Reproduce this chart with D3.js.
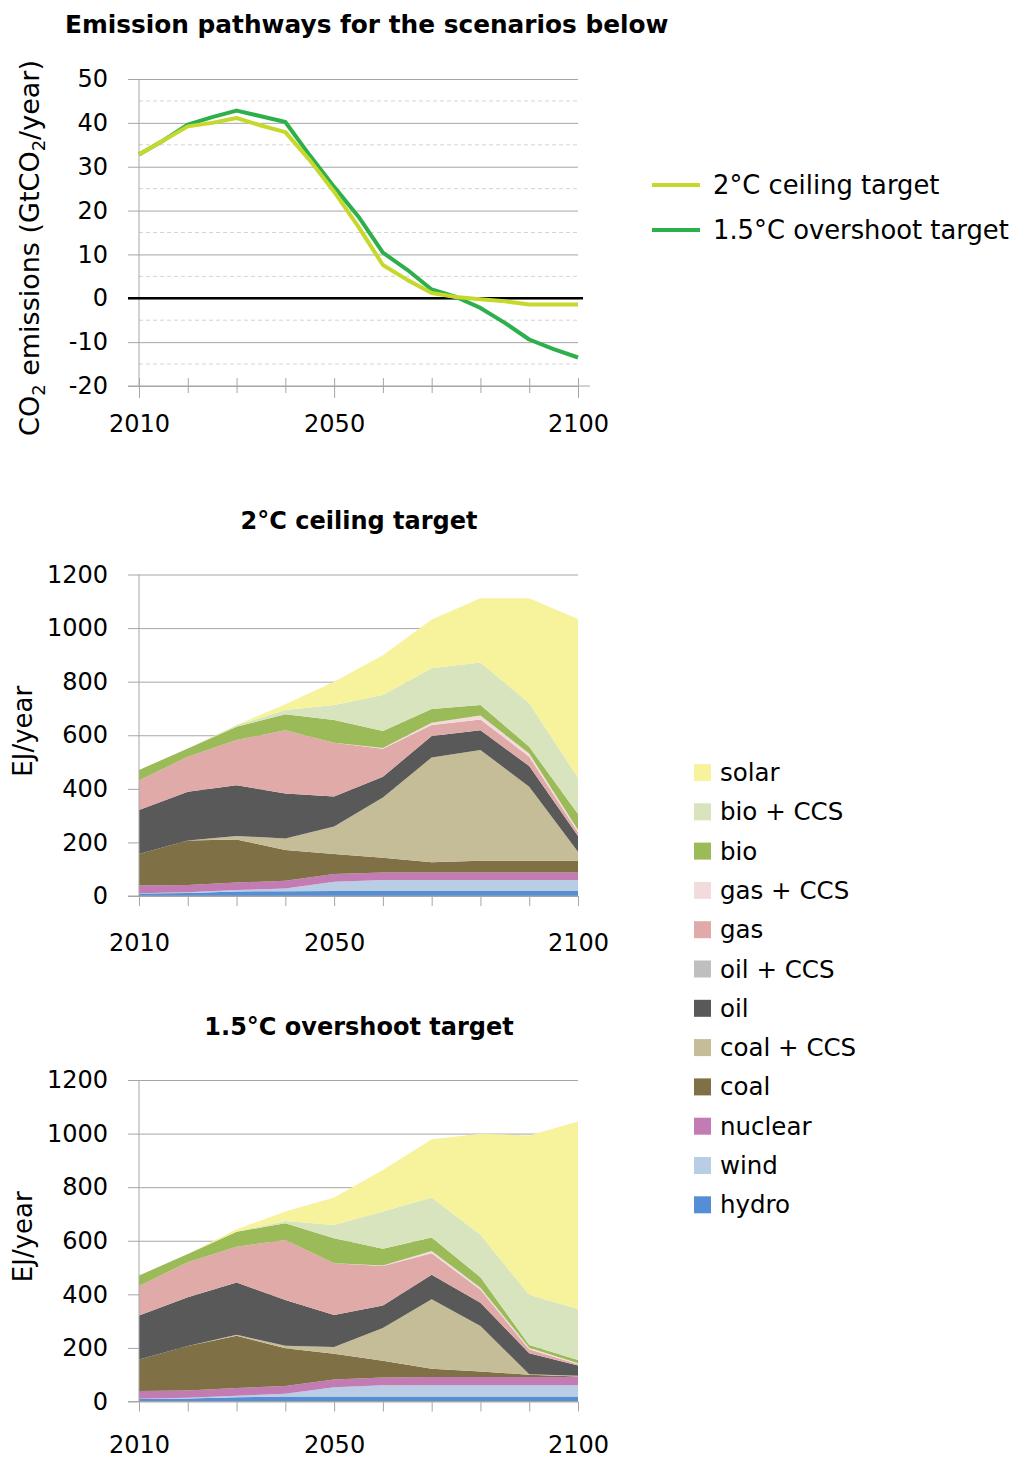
<!DOCTYPE html>
<html>
<head>
<meta charset="utf-8">
<script src="https://cdn.jsdelivr.net/npm/d3@7"></script>
<style>
  body { margin: 0; background: #fff; }
  svg text { font-family: 'DejaVu Sans', sans-serif; fill: #000; }
</style>
</head>
<body>
<svg id="chart" width="1026" height="1461"></svg>
<script>
// ---- data ----
const emissionYears = [2010, 2015, 2020, 2025, 2030, 2035, 2040, 2045, 2050, 2055,
  2060, 2065, 2070, 2075, 2080, 2085, 2090, 2095, 2100];
const ceilingEmissions = [32.8, 36, 39.2, 40, 41.1, 39.4, 37.9, 31.5, 24.3, 16.3,
  7.6, 4.2, 1.2, 0.3, -0.2, -0.7, -1.4, -1.4, -1.4];
const overshootEmissions = [32.8, 36, 39.6, 41.3, 42.8, 41.5, 40.2, 32.6, 25.4, 18.6,
  10.4, 6.5, 2.0, 0.3, -2.2, -5.6, -9.4, -11.6, -13.5];

const decadeYears = [2010, 2020, 2030, 2040, 2050, 2060, 2070, 2080, 2090, 2100];
const yearLabels = [2010, 2050, 2100];
const emissionTicks = [50, 40, 30, 20, 10, 0, -10, -20];
const emissionMinorTicks = [45, 35, 25, 15, 5, -5, -15];
const energyTicks = [0, 200, 400, 600, 800, 1000, 1200];

// stack order, bottom to top
const techKeys = ['hydro', 'wind', 'nuclear', 'coal', 'coal + CCS', 'oil', 'oil + CCS',
  'gas', 'gas + CCS', 'bio', 'bio + CCS', 'solar'];
const techColors = ['#558ed5', '#b9cde5', '#c27bb3', '#7f7045', '#c4bd97', '#595959', '#bfbfbf',
  '#e0aaa8', '#f2dcdb', '#9bbb59', '#d7e4bd', '#f7f29c'];

// 2°C ceiling target, EJ/year
const ceilingHydro = [9, 11, 17, 18, 19, 19, 19, 19, 19, 19];
const ceilingWind = [1, 3, 5, 10, 34, 41, 41, 41, 41, 41];
const ceilingNuclear = [29, 27, 28, 29, 29, 28, 28, 28, 28, 28];
const ceilingCoal = [118, 166, 161, 115, 75, 55, 38, 44, 44, 44];
const ceilingCoalCCS = [0, 0, 13, 43, 102, 225, 391, 413, 276, 33];
const ceilingOil = [164, 182, 189, 168, 112, 77, 80, 74, 77, 59];
const ceilingOilCCS = [0, 0, 0, 0, 0, 0, 0, 0, 0, 0];
const ceilingGas = [110, 131, 169, 236, 201, 105, 41, 40, 35, 14];
const ceilingGasCCS = [0, 0, 0, 0, 0, 2, 9, 15, 12, 8];
const ceilingBio = [39, 31, 50, 59, 85, 64, 51, 39, 25, 60];
const ceilingBioCCS = [0, 0, 5, 16, 56, 134, 152, 159, 162, 135];
const ceilingSolar = [0, 0, 1, 22, 87, 149, 182, 239, 392, 593];

// 1.5°C overshoot target, EJ/year
const overshootHydro = [9, 11, 16, 19, 19, 19, 19, 19, 19, 19];
const overshootWind = [1, 3, 5, 10, 34, 42, 42, 42, 42, 42];
const overshootNuclear = [29, 27, 29, 29, 29, 29, 30, 30, 30, 30];
const overshootCoal = [118, 166, 195, 141, 96, 62, 31, 21, 9, 2];
const overshootCoalCCS = [0, 0, 4, 9, 25, 122, 260, 170, 2, 3];
const overshootOil = [164, 182, 195, 171, 120, 84, 91, 87, 78, 38];
const overshootOilCCS = [0, 0, 0, 0, 0, 0, 0, 0, 0, 0];
const overshootGas = [110, 131, 134, 224, 193, 148, 80, 48, 15, 5];
const overshootGasCCS = [0, 0, 0, 0, 0, 2, 9, 8, 6, 4];
const overshootBio = [39, 31, 56, 62, 93, 62, 50, 39, 10, 12];
const overshootBioCCS = [0, 0, 0, 9, 50, 139, 149, 158, 187, 190];
const overshootSolar = [0, 0, 9, 35, 102, 155, 218, 377, 595, 700];

const ceilingSeries = [ceilingHydro, ceilingWind, ceilingNuclear, ceilingCoal, ceilingCoalCCS,
  ceilingOil, ceilingOilCCS, ceilingGas, ceilingGasCCS, ceilingBio, ceilingBioCCS, ceilingSolar];
const overshootSeries = [overshootHydro, overshootWind, overshootNuclear, overshootCoal,
  overshootCoalCCS, overshootOil, overshootOilCCS, overshootGas, overshootGasCCS, overshootBio,
  overshootBioCCS, overshootSolar];

const gridColor = '#a6a6a6';
const svg = d3.select('#chart');
const x = d3.scaleLinear().domain([2010, 2100]).range([139, 578]);
const plain = d => String(d);
const yearFormat = d => yearLabels.includes(d) ? String(d) : '';

// ---- emission pathways ----
const renderEmissions = () => {
  const y = d3.scaleLinear().domain([-20, 50]).range([386, 79]);

  svg.append('text')
    .attr('x', 65).attr('y', 33)
    .style('font-size', '24.8px').style('font-weight', 'bold')
    .text('Emission pathways for the scenarios below');

  // dashed minor grid
  svg.append('g')
    .selectAll('line')
    .data(emissionMinorTicks)
    .enter().append('line')
    .attr('x1', 139).attr('x2', 578)
    .attr('y1', d => y(d)).attr('y2', d => y(d))
    .attr('stroke', '#d4d4d4').attr('stroke-dasharray', '4,3');

  // major grid + labels
  svg.append('g')
    .attr('transform', 'translate(128,0)')
    .call(d3.axisLeft(y).tickValues(emissionTicks).tickSize(-450).tickPadding(20).tickFormat(plain))
    .call(g => g.select('.domain').remove())
    .call(g => g.selectAll('line').attr('stroke', gridColor))
    .call(g => g.selectAll('text').style('font-size', '24px').attr('font-family', null));

  svg.append('line')
    .attr('x1', 139).attr('x2', 139).attr('y1', 79).attr('y2', 386)
    .attr('stroke', gridColor);

  // x axis with ticks crossing the line
  svg.append('g')
    .attr('transform', 'translate(0,386)')
    .call(d3.axisBottom(x).tickValues(decadeYears).tickSize(7).tickPadding(22).tickFormat(yearFormat))
    .call(g => g.select('.domain').attr('d', 'M128,0H590').attr('stroke', gridColor))
    .call(g => g.selectAll('line').attr('stroke', gridColor).attr('y1', -8)
      .attr('y2', d => yearLabels.includes(d) ? 12 : 7))
    .call(g => g.selectAll('text').style('font-size', '24px').attr('font-family', null));

  // zero line
  svg.append('line')
    .attr('x1', 128).attr('x2', 583).attr('y1', y(0)).attr('y2', y(0))
    .attr('stroke', '#000').attr('stroke-width', 2.5);

  const line = d3.line().x(d => x(d[0])).y(d => y(d[1]));
  svg.append('path')
    .datum(emissionYears.map((yr, i) => [yr, overshootEmissions[i]]))
    .attr('d', line).attr('fill', 'none')
    .attr('stroke', '#2db04b').attr('stroke-width', 4).attr('stroke-linejoin', 'round');
  svg.append('path')
    .datum(emissionYears.map((yr, i) => [yr, ceilingEmissions[i]]))
    .attr('d', line).attr('fill', 'none')
    .attr('stroke', '#c6d82c').attr('stroke-width', 4).attr('stroke-linejoin', 'round');

  // y title with subscripts
  const yt = svg.append('text')
    .attr('transform', 'translate(39,248) rotate(-90)')
    .attr('text-anchor', 'middle')
    .style('font-size', '27px');
  yt.append('tspan').text('CO');
  yt.append('tspan').attr('dy', 6).style('font-size', '18px').text('2');
  yt.append('tspan').attr('dy', -6).text(' emissions (GtCO');
  yt.append('tspan').attr('dy', 6).style('font-size', '18px').text('2');
  yt.append('tspan').attr('dy', -6).text('/year)');

  // line legend
  const leg = svg.append('g');
  [['2°C ceiling target', '#c6d82c', 185], ['1.5°C overshoot target', '#2db04b', 230]]
    .forEach(([label, color, ly]) => {
      leg.append('line').attr('x1', 652).attr('x2', 700).attr('y1', ly).attr('y2', ly)
        .attr('stroke', color).attr('stroke-width', 4);
      leg.append('text').attr('x', 713).attr('y', ly + 9).style('font-size', '25.8px').text(label);
    });
};

// ---- stacked energy charts ----
const renderStack = (title, titleY, top, bottom, labelPad, series) => {
  const y = d3.scaleLinear().domain([0, 1200]).range([bottom, top]);
  const rows = decadeYears.map((yr, i) => {
    const r = { year: yr };
    techKeys.forEach((k, j) => { r[k] = series[j][i]; });
    return r;
  });
  const layers = d3.stack().keys(techKeys)(rows);

  svg.append('text')
    .attr('x', 359).attr('y', titleY)
    .attr('text-anchor', 'middle')
    .style('font-size', '24px').style('font-weight', 'bold')
    .text(title);

  svg.append('g')
    .attr('transform', 'translate(128,0)')
    .call(d3.axisLeft(y).tickValues(energyTicks).tickSize(-450).tickPadding(20).tickFormat(plain))
    .call(g => g.select('.domain').remove())
    .call(g => g.selectAll('line').attr('stroke', gridColor))
    .call(g => g.selectAll('text').style('font-size', '24px').attr('font-family', null));

  const area = d3.area()
    .x(d => x(d.data.year))
    .y0(d => y(d[0]))
    .y1(d => y(d[1]));

  svg.append('g')
    .selectAll('path')
    .data(layers)
    .enter().append('path')
    .attr('d', area)
    .attr('fill', (d, i) => techColors[i]);

  svg.append('line')
    .attr('x1', 139).attr('x2', 139).attr('y1', top).attr('y2', bottom)
    .attr('stroke', gridColor);

  svg.append('g')
    .attr('transform', `translate(0,${bottom})`)
    .call(d3.axisBottom(x).tickValues(decadeYears).tickSize(10).tickPadding(labelPad).tickFormat(yearFormat))
    .call(g => g.select('.domain').attr('d', 'M128,0H578').attr('stroke', gridColor))
    .call(g => g.selectAll('line').attr('stroke', gridColor))
    .call(g => g.selectAll('text').style('font-size', '24px').attr('font-family', null));

  svg.append('text')
    .attr('transform', `translate(32,${(top + bottom) / 2 - 4}) rotate(-90)`)
    .attr('text-anchor', 'middle')
    .style('font-size', '26px')
    .text('EJ/year');
};

// ---- fuel legend ----
const renderLegend = () => {
  const items = techKeys.map((k, i) => ({ key: k, color: techColors[i] })).reverse();
  const rowsSel = svg.append('g')
    .selectAll('g')
    .data(items)
    .enter().append('g')
    .attr('transform', (d, i) => `translate(694,${772 + i * 39.3})`);
  rowsSel.append('rect')
    .attr('x', 0).attr('y', -8).attr('width', 17).attr('height', 17)
    .attr('fill', d => d.color);
  rowsSel.append('text')
    .attr('x', 26).attr('y', 9)
    .style('font-size', '24.5px')
    .text(d => d.key);
};

renderEmissions();
renderStack('2°C ceiling target', 529, 574.5, 896, 28, ceilingSeries);
renderStack('1.5°C overshoot target', 1035, 1080, 1401.5, 24, overshootSeries);
renderLegend();
</script>
</body>
</html>
